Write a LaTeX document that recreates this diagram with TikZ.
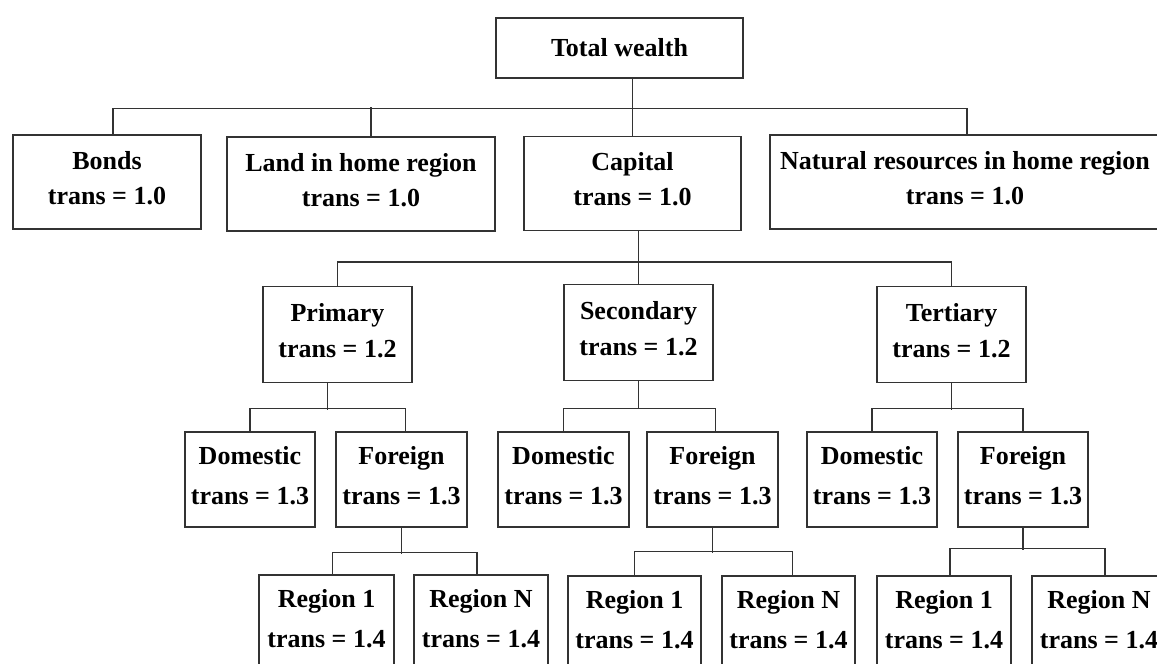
\documentclass[tikz,border=0pt]{standalone}
\usepackage{fontspec}
\setmainfont{Liberation Serif}
\usetikzlibrary{positioning}
\tikzset{
  box/.style   = { rectangle, draw=black!80, line width=1.3pt, inner sep=0pt, align=center },
  head/.style  = { box, font=\bfseries\fontsize{26}{35}\selectfont },
  tier/.style  = { box, minimum height=94pt, text depth=9pt,
                   font=\bfseries\fontsize{26}{35}\selectfont },
  sector/.style= { box, minimum height=96pt, text depth=9pt,
                   font=\bfseries\fontsize{26}{36}\selectfont },
  leaf/.style  = { box, minimum height=95pt, text depth=9pt,
                   font=\bfseries\fontsize{26}{40}\selectfont },
  link/.style  = { draw=black!80, line width=1.3pt }
}

\begin{document}
\begin{tikzpicture}[x=1pt,y=-1pt]
  \clip (0,0) rectangle (1157,664);

  \node (tw)        [head,minimum width=247pt,minimum height=60pt] at (619.5,48) {Total wealth};

  \node (bonds)     [tier,minimum width=188pt] at (107,182)    {Bonds\\trans = 1.0};
  \node (land)      [tier,minimum width=268pt] at (361,184)    {Land in home region\\trans = 1.0};
  \node (capital)   [tier,minimum width=217pt] at (632.5,183.5){Capital\\trans = 1.0};
  \node (natural)   [tier,minimum width=390pt] at (965,182)    {Natural resources in home region\\trans = 1.0};

  \node (primary)   [sector,minimum width=149pt] at (337.5,334.5) {Primary\\trans = 1.2};
  \node (secondary) [sector,minimum width=149pt] at (638.5,332.5) {Secondary\\trans = 1.2};
  \node (tertiary)  [sector,minimum width=149pt] at (951.5,334.5) {Tertiary\\trans = 1.2};

  \node (dom1) [leaf,minimum width=130pt] at (250,479.5)    {Domestic\\trans = 1.3};
  \node (for1) [leaf,minimum width=131pt] at (401.5,479.5)  {Foreign\\trans = 1.3};
  \node (dom2) [leaf,minimum width=131pt] at (563.5,479.5)  {Domestic\\trans = 1.3};
  \node (for2) [leaf,minimum width=131pt] at (712.5,479.5)  {Foreign\\trans = 1.3};
  \node (dom3) [leaf,minimum width=130pt] at (872,479.5)    {Domestic\\trans = 1.3};
  \node (for3) [leaf,minimum width=130pt] at (1023,479.5)   {Foreign\\trans = 1.3};

  \node (reg1a) [leaf,minimum width=135pt] at (326.5,622.5) {Region 1\\trans = 1.4};
  \node (regNa) [leaf,minimum width=134pt] at (481,622.5)   {Region N\\trans = 1.4};
  \node (reg1b) [leaf,minimum width=133pt] at (634.5,623.5) {Region 1\\trans = 1.4};
  \node (regNb) [leaf,minimum width=133pt] at (788.5,623.5) {Region N\\trans = 1.4};
  \node (reg1c) [leaf,minimum width=134pt] at (944,623.5)   {Region 1\\trans = 1.4};
  \node (regNc) [leaf,minimum width=134pt] at (1099,623.5)  {Region N\\trans = 1.4};

  % first split
  \draw [link] ([xshift=6pt]bonds.north) -- ++(0,-26) -| ([xshift=2pt]natural.north);
  \draw [link] ([xshift=10pt]land.north) -- ++(0,-29);
  \draw [link] (tw.south -| capital.north) -- (capital.north);

  % capital by sector
  \draw [link] (primary.north) -- ++(0,-24) -| (tertiary.north);
  \draw [link] (capital.south -| secondary.north) -- (secondary.north);

  % domestic / foreign
  \draw [link] (dom1.north) -- ++(0,-23) -| ([xshift=4pt]for1.north);
  \draw [link] ([xshift=-10pt]primary.south) -- ++(0,27);
  \draw [link] (dom2.north) -- ++(0,-23) -| ([xshift=3pt]for2.north);
  \draw [link] (secondary.south) -- ++(0,28);
  \draw [link] (dom3.north) -- ++(0,-23) -| (for3.north);
  \draw [link] (tertiary.south) -- ++(0,27);

  % foreign by region
  \draw [link] ([xshift=6pt]reg1a.north) -- ++(0,-22) -| ([xshift=-4pt]regNa.north);
  \draw [link] (for1.south) -- ++(0,26);
  \draw [link] (reg1b.north) -- ++(0,-24) -| ([xshift=4pt]regNb.north);
  \draw [link] (for2.south) -- ++(0,25);
  \draw [link] ([xshift=6pt]reg1c.north) -- ++(0,-27) -| ([xshift=6pt]regNc.north);
  \draw [link] (for3.south) -- ++(0,22);
\end{tikzpicture}
\end{document}
